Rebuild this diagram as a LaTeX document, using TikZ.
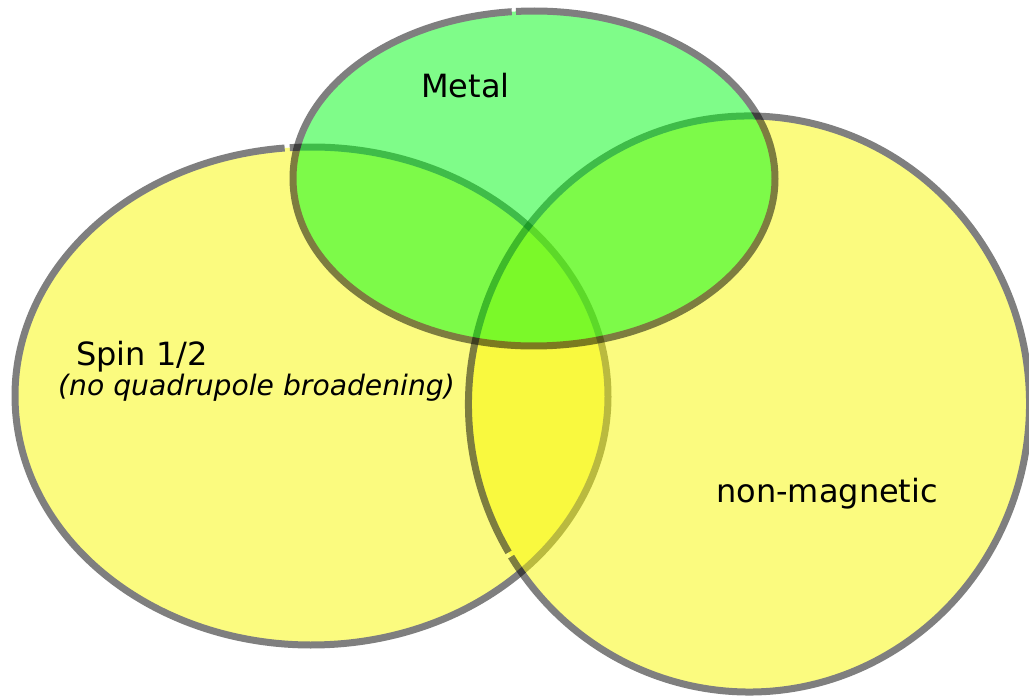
\documentclass[tikz,border=0pt]{standalone}
\usepackage{fontspec}
\setmainfont{DejaVu Sans}
\begin{document}
\begin{tikzpicture}[x=1pt,y=-1pt]
  \definecolor{setyellow}{RGB}{247,247,0}
  \definecolor{setgreen}{RGB}{0,249,20}
  \tikzset{
    setline/.style={draw=black, line width=7pt},
    setlabel/.style={inner sep=0pt, anchor=base west, font=\fontsize{32}{32}\selectfont},
    setnote/.style={inner sep=0pt, anchor=base west, font=\fontsize{28.2}{28.2}\selectfont\itshape}
  }
  \useasboundingbox (0,0) rectangle (1029,698);

  % set centres
  \coordinate (spin) at (311.5,396);
  \coordinate (nonmag) at (749,404);
  \coordinate (metal) at (534,178.5);

  % Spin 1/2
  \begin{scope}[transparency group, opacity=0.5]
    \fill[setyellow] (spin) ellipse [x radius=296.5, y radius=249];
    \draw[setline] (spin) ++(265.8:296.5 and 249)
      arc [start angle=265.8, delta angle=359, x radius=296.5, y radius=249];
  \end{scope}

  % non-magnetic
  \begin{scope}[transparency group, opacity=0.5]
    \fill[setyellow] (nonmag) ellipse [x radius=280.5, y radius=288];
    \draw[setline] (nonmag) ++(149:280.5 and 288)
      arc [start angle=149, delta angle=359, x radius=280.5, y radius=288];
  \end{scope}

  % Metal
  \begin{scope}[transparency group, opacity=0.5]
    \fill[setgreen] (metal) ellipse [x radius=241, y radius=167.5];
    \draw[setline] (metal) ++(265.7:241 and 167.5)
      arc [start angle=265.7, delta angle=359, x radius=241, y radius=167.5];
  \end{scope}

  % labels
  \node[setlabel] (metallabel) at (421,98) {Metal};
  \node[setlabel] (spinlabel) at (76,365) {Spin 1/2};
  \node[setnote] (spinnote) at (58,395) {(no quadrupole broadening)};
  \node[setlabel] (nonmaglabel) at (716,502) {non-magnetic};
\end{tikzpicture}
\end{document}
